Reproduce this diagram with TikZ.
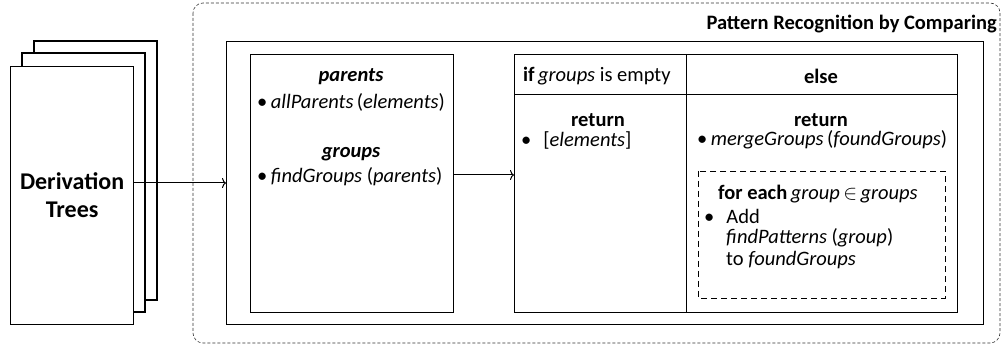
\documentclass[tikz,border=0pt]{standalone}
\usepackage{fontspec}
\setmainfont{Carlito}
\usetikzlibrary{arrows.meta}
\begin{document}
\begin{tikzpicture}[x=1pt,y=-1pt,
  box/.style={draw,line width=1.2pt,fill=white},
  thinbox/.style={draw,line width=1pt},
  conn/.style={line width=1pt,-{To[length=4pt,width=10pt,line width=1pt]}},
  txt/.style={inner sep=0pt,font=\fontsize{20.5}{24}\selectfont},
  bigtxt/.style={inner sep=0pt,font=\fontsize{20.5}{24}\selectfont\bfseries}]
\useasboundingbox (0,0) rectangle (1002,347);

% stack of derivation trees
\draw[box] (34,41) rectangle (157,300);
\draw[box] (22,53) rectangle (145,312);
\node[box,minimum width=123pt,minimum height=258pt,anchor=north west,inner sep=0pt,
  align=center,font=\fontsize{24}{28}\selectfont\bfseries] (trees) at (10,66)
  {Derivation\\Trees};

% dashed region of the comparing step
\draw[line width=0.6pt,dash pattern=on 3pt off 2pt,rounded corners=10pt,draw=black!80]
  (193,3) rectangle (1000,343);
\node[bigtxt,anchor=base east] (title) at (997,30) {Pattern Recognition by Comparing};

% outer process box
\node[box,minimum width=757pt,minimum height=283pt,anchor=north west,inner sep=0pt] (outer) at (226,41) {};

% parents / groups box
\node[thinbox,minimum width=203pt,minimum height=258pt,anchor=north west,inner sep=0pt] (left) at (250,54) {};
\node[txt,anchor=center] (parents) at (351,77) {\bfseries\itshape parents};
\node[txt,anchor=west] (allp) at (257,102) {\textbullet\,\textit{allParents}\,(\textit{elements})};
\node[txt,anchor=center] (groups) at (351,154) {\bfseries\itshape groups};
\node[txt,anchor=west] (findg) at (257,177) {\textbullet\,\textit{findGroups} (\textit{parents})};

% condition table
\node[thinbox,minimum width=443pt,minimum height=258pt,anchor=north west,inner sep=0pt] (table) at (514,54) {};
\coordinate (colt) at (686,54);
\coordinate (colb) at (686,312);
\coordinate (rowl) at (514,95);
\coordinate (rowr) at (957,95);
\draw[line width=1pt] (colt) -- (colb);
\draw[line width=1pt] (rowl) -- (rowr);
\node[txt,anchor=west] (if) at (523,76) {\textbf{if}\,\textit{groups} is empty};
\node[txt,anchor=center] (else) at (821,76) {\textbf{else}};
\node[txt,anchor=center] (ret1) at (598,120) {\textbf{return}};
\node[txt,anchor=west] (elem) at (521,140) {\textbullet\hspace{12pt}[\textit{elements}]};
\node[txt,anchor=center] (ret2) at (821,120) {\textbf{return}};
\node[txt,anchor=west] (merge) at (697,140) {\textbullet\,\textit{mergeGroups}\,(\textit{foundGroups})};

% loop box
\draw[line width=0.8pt,dash pattern=on 6pt off 4pt] (698,171) rectangle (945,298);
\node[txt,anchor=west] (foreach) at (718,194) {\textbf{for each}\,\textit{group}\,$\in$\,\textit{groups}};
\node[txt,anchor=west] (add) at (704,216) {\textbullet\hspace{12pt}Add};
\node[txt,anchor=west] (findp) at (726,238) {\textit{findPatterns} (\textit{group})};
\node[txt,anchor=west] (tofg) at (726,260) {to \textit{foundGroups}};

% connectors
\draw[conn] (trees.east |- 0,183) -- (outer.west |- 0,183);
\draw[conn] (left.east |- 0,175) -- (table.west |- 0,175);
\end{tikzpicture}
\end{document}
